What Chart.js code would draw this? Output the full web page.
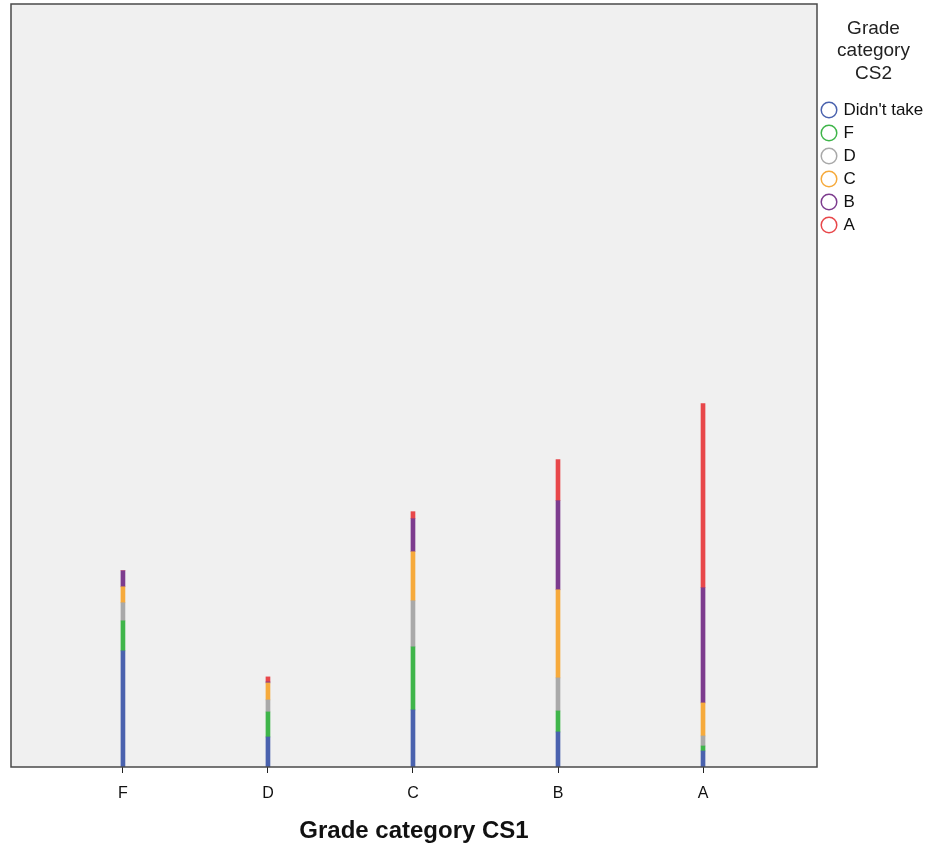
<!DOCTYPE html>
<html>
<head>
<meta charset="utf-8">
<script src="https://cdn.jsdelivr.net/npm/chart.js@4/dist/chart.umd.min.js"></script>
<style>
  body { margin: 0; background: #fff; }
  #wrap { width: 930px; height: 847px; }
</style>
</head>
<body>
<div id="wrap"><canvas id="chart" width="930" height="847"></canvas></div>
<script>
// categories on the x axis (Grade category CS1)
const categories = ['F', 'D', 'C', 'B', 'A'];

// stacked segments, bottom to top (Grade category CS2)
const didntTake = [116, 30, 57, 35, 16];
const gradeF    = [30, 25, 63, 21, 5];
const gradeD    = [18, 12, 46, 33, 10];
const gradeC    = [16, 17, 49, 88, 33];
const gradeB    = [16, 1, 33, 89, 115];
const gradeA    = [0, 5, 7, 41, 184];

const seriesNames = ["Didn't take", 'F', 'D', 'C', 'B', 'A'];
const seriesValues = [didntTake, gradeF, gradeD, gradeC, gradeB, gradeA];
const colors = ['#4a62ae', '#3fb54a', '#a9a9a9', '#f6aa3c', '#7d3c8e', '#e8474a'];

const yMax = 762;

const datasets = seriesNames.map((name, i) => ({
    label: name,
    data: seriesValues[i].map((v, j) => ({ x: j, y: v })),
    backgroundColor: colors[i],
    borderColor: colors[i],
    borderWidth: 0,
    barThickness: 4
}));

// grey plot background and dark frame
const plotFrame = {
    id: 'plotFrame',
    beforeDatasetsDraw(chart) {
        const { ctx, chartArea: a } = chart;
        ctx.save();
        ctx.fillStyle = '#f0f0f0';
        ctx.fillRect(a.left, a.top, a.right - a.left, a.bottom - a.top);
        ctx.restore();
    },
    afterDatasetsDraw(chart) {
        const { ctx, chartArea: a } = chart;
        ctx.save();
        ctx.strokeStyle = '#4a4a4a';
        ctx.lineWidth = 1.5;
        ctx.strokeRect(a.left, a.top, a.right - a.left, a.bottom - a.top);
        ctx.restore();
    }
};

new Chart(document.getElementById('chart'), {
    type: 'bar',
    data: { datasets: datasets },
    plugins: [plotFrame],
    options: {
        responsive: false,
        animation: false,
        layout: { padding: { left: 11, top: 4, right: 0, bottom: 0 } },
        scales: {
            x: {
                type: 'linear',
                stacked: true,
                min: -0.772,
                max: 4.786,
                offset: false,
                afterBuildTicks: axis => {
                    axis.ticks = categories.map((c, i) => ({ value: i }));
                },
                ticks: {
                    callback: v => categories[v] ?? '',
                    color: '#111',
                    font: { family: 'Arial, "Liberation Sans"', size: 16 },
                    padding: 11,
                    maxRotation: 0
                },
                grid: {
                    display: true,
                    offset: false,
                    drawOnChartArea: false,
                    drawTicks: true,
                    tickLength: 6,
                    color: '#222'
                },
                border: { display: false },
                title: {
                    display: true,
                    text: 'Grade category CS1',
                    color: '#111',
                    font: { family: 'Arial, "Liberation Sans"', size: 24, weight: 'bold' },
                    padding: { top: 3, bottom: 1 }
                }
            },
            y: {
                stacked: true,
                display: false,
                min: 0,
                max: yMax
            }
        },
        plugins: {
            tooltip: { enabled: false },
            legend: {
                position: 'right',
                align: 'start',
                maxWidth: 113,
                title: {
                    display: true,
                    text: ['Grade', 'category', 'CS2'],
                    color: '#222',
                    position: 'center',
                    font: { family: 'Arial, "Liberation Sans"', size: 19, lineHeight: 1.18 },
                    padding: { top: 15, bottom: 54 }
                },
                labels: {
                    usePointStyle: true,
                    pointStyle: 'circle',
                    boxWidth: 12,
                    boxHeight: 11,
                    padding: 6,
                    color: '#111',
                    font: { family: 'Arial, "Liberation Sans"', size: 17 },
                    generateLabels: chart => Chart.defaults.plugins.legend.labels.generateLabels(chart).map((l, i) => ({
                        ...l,
                        fillStyle: 'rgba(0,0,0,0)',
                        strokeStyle: colors[i],
                        lineWidth: 1.5
                    }))
                }
            }
        }
    }
});
</script>
</body>
</html>
